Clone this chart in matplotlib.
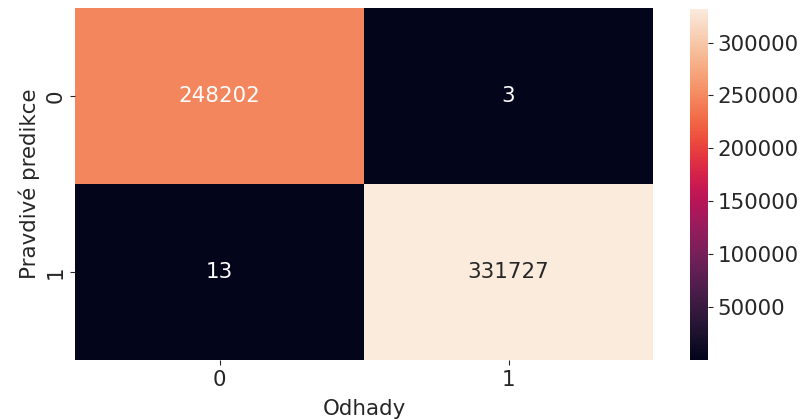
import matplotlib
matplotlib.use("Agg")
import matplotlib.pyplot as plt
import seaborn as sns
import numpy as np

row_labels = ["0", "1"]
col_labels = ["0", "1"]
row0 = [248202, 3]
row1 = [13, 331727]
xlabel = "Odhady"
ylabel = "Pravdivé predikce"

data = np.array([row0, row1])

plt.rcParams['font.family'] = ['DejaVu Sans']
tc = '#262626'
plt.rcParams['text.color'] = tc
plt.rcParams['axes.labelcolor'] = tc
plt.rcParams['xtick.color'] = tc
plt.rcParams['ytick.color'] = tc
fs = 15.4
fig = plt.figure(figsize=(8.01, 4.2), dpi=100)
ax = fig.add_axes([75/801, 1 - 360/420, (653-75)/801, (360-8)/420])
cax = fig.add_axes([690/801, 1 - 360/420, 18/801, (360-9)/420])
sns.heatmap(data, annot=True, fmt="d", cmap="rocket", ax=ax, cbar_ax=cax,
            xticklabels=col_labels, yticklabels=row_labels,
            annot_kws={"fontsize": fs})
ax.set_xlabel(xlabel, fontsize=fs, labelpad=7)
ax.set_ylabel(ylabel, fontsize=fs)
ax.tick_params(labelsize=fs)
cax.tick_params(labelsize=fs)
plt.setp(ax.get_yticklabels(), rotation=90, va="center")
fig.savefig("out.png", dpi=100)
